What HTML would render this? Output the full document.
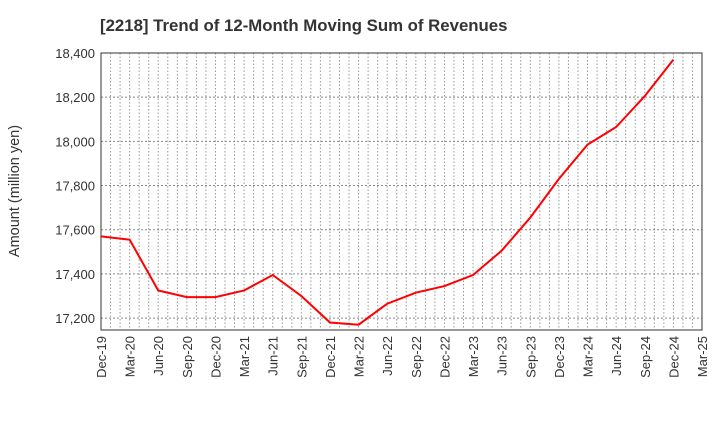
<!DOCTYPE html>
<html><head><meta charset="utf-8"><style>
body{margin:0;background:#fff;font-family:"Liberation Sans",Arial,sans-serif}
svg text{font-family:"Liberation Sans",Arial,sans-serif}
</style></head><body>
<svg id="c" width="720" height="440" xmlns="http://www.w3.org/2000/svg">
<text x="100" y="31" text-anchor="start" font-size="16.8" font-weight="bold" fill="#333">[2218]  Trend of 12-Month Moving Sum of Revenues</text>
<text transform="translate(19,191) rotate(-90)" text-anchor="middle" font-size="14.5" fill="#333">Amount (million yen)</text>
<g id="grid"></g><g id="axes"></g><g id="series"></g>
</svg>
<script>
const categories=["Dec-19","Mar-20","Jun-20","Sep-20","Dec-20","Mar-21","Jun-21","Sep-21","Dec-21","Mar-22","Jun-22","Sep-22","Dec-22","Mar-23","Jun-23","Sep-23","Dec-23","Mar-24","Jun-24","Sep-24","Dec-24","Mar-25"];
const revenues=[17570,17555,17325,17295,17295,17325,17395,17300,17180,17170,17265,17315,17345,17395,17505,17655,17830,17985,18065,18205,18370];
const yTicks=[17200,17400,17600,17800,18000,18200,18400];
const L=101,R=702,T=53,B=330,yMin=17146,yMax=18400;
const ns="http://www.w3.org/2000/svg";
const x=i=>L+(R-L)*i/(categories.length-1);
const y=v=>B-(B-T)*(v-yMin)/(yMax-yMin);
function mk(p,t,a){const e=document.createElementNS(ns,t);for(const k in a)e.setAttribute(k,a[k]);p.appendChild(e);return e;}
const g=document.getElementById('grid'),ax=document.getElementById('axes'),s=document.getElementById('series');
const nm=(categories.length-1)*3;
for(let m=1;m<nm;m++){const xx=L+(R-L)*m/nm;const l=mk(g,'line',{x1:xx,x2:xx,y1:T,y2:B,stroke:'#999','stroke-dasharray':'1.5,2','stroke-width':1});

}
yTicks.forEach(v=>{const yy=y(v);const l=mk(g,'line',{x1:L,x2:R,y1:yy,y2:yy,stroke:'#888','stroke-dasharray':'2,2','stroke-width':1});


const t=mk(ax,'text',{x:L-6,y:yy+5,'text-anchor':'end','font-size':13,fill:'#333'});t.textContent=v.toLocaleString('en-US');

});
const fr=mk(ax,'rect',{x:L,y:T,width:R-L,height:B-T,fill:'none',stroke:'#333','stroke-width':1});


categories.forEach((c,i)=>{const xx=x(i);const t=mk(ax,'text',{transform:`translate(${xx+5},${B+6}) rotate(-90)`,'text-anchor':'end','font-size':13,fill:'#333'});t.textContent=c;

});
const p=mk(s,'polyline',{points:revenues.map((v,i)=>x(i)+','+y(v)).join(' '),fill:'none',stroke:'#f00','stroke-width':2});


</script>
</body></html>
